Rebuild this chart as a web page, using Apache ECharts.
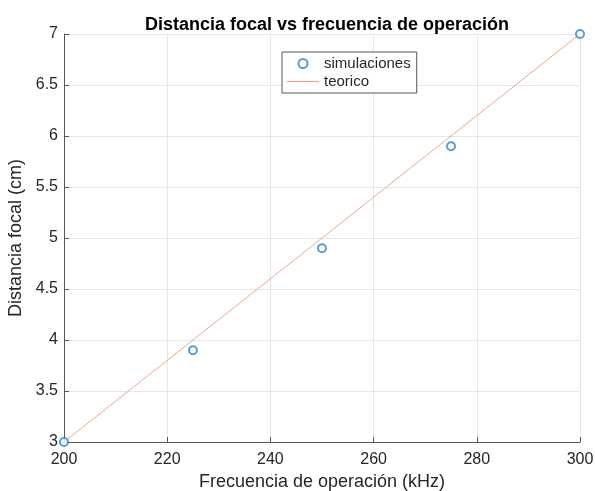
<!DOCTYPE html>
<html>
<head>
<meta charset="utf-8">
<script src="https://cdn.jsdelivr.net/npm/echarts@6/dist/echarts.min.js"></script>
<style>html,body{margin:0;padding:0;background:#fff}#c{width:595px;height:491px}</style>
</head>
<body>
<div id="c"></div>
<script>
// Simulated focal distance at each operating frequency
const frecuencias = [200, 225, 250, 275, 300];
const distSimuladas = [3, 3.9, 4.9, 5.9, 7];
// Theoretical line endpoints
const frecTeorica = [200, 300];
const distTeorica = [3, 7];

const font = 'Liberation Sans, Arial, Helvetica, sans-serif';
const lineColor = '#eea68c';
const markerColor = '#2e86c8';
const chart = echarts.init(document.getElementById('c'));
chart.setOption({
  animation: false,
  backgroundColor: '#fff',
  title: {
    text: 'Distancia focal vs frecuencia de operación',
    left: 322, textAlign: 'center', top: 11,
    textStyle: { fontFamily: font, fontSize: 18, fontWeight: 'bold', color: '#000' }
  },
  legend: {
    left: 282, top: 52, orient: 'vertical',
    padding: [4, 6, 4, 5],
    itemGap: 3,
    itemWidth: 32, itemHeight: 9,
    borderColor: '#555', borderWidth: 1, borderRadius: 0,
    backgroundColor: '#fff',
    textStyle: { fontFamily: font, fontSize: 15, color: '#262626' },
    data: [
      { name: 'simulaciones', icon: 'emptyCircle' },
      {
        name: 'teorico', icon: 'path://M0,4 L32,4 L32,5.2 L0,5.2 Z',
        itemStyle: { color: lineColor, borderWidth: 0 }
      }
    ]
  },
  grid: { left: 64, right: 15, top: 34, bottom: 49, outerBoundsMode: 'none' },
  xAxis: {
    type: 'value', min: 200, max: 300, interval: 20,
    name: 'Frecuencia de operación (kHz)', nameLocation: 'middle', nameGap: 30,
    nameTextStyle: { fontFamily: font, fontSize: 18, color: '#262626' },
    axisLine: { show: true, lineStyle: { color: '#555', width: 1 } },
    axisTick: { show: true, inside: true, length: 5, lineStyle: { color: '#555' } },
    axisLabel: { fontFamily: font, fontSize: 16, color: '#262626', margin: 10 },
    splitLine: { show: true, lineStyle: { color: '#e6e6e6', width: 1 } }
  },
  yAxis: {
    type: 'value', min: 3, max: 7, interval: 0.5,
    name: 'Distancia focal (cm)', nameLocation: 'middle', nameGap: 33,
    nameTextStyle: { fontFamily: font, fontSize: 18, color: '#262626' },
    axisLine: { show: true, lineStyle: { color: '#555', width: 1 } },
    axisTick: { show: true, inside: true, length: 5, lineStyle: { color: '#555' } },
    axisLabel: { fontFamily: font, fontSize: 16, color: '#262626', margin: 6 },
    splitLine: { show: true, lineStyle: { color: '#e6e6e6', width: 1 } }
  },
  series: [
    {
      name: 'teorico', type: 'line', z: 2,
      data: frecTeorica.map((f, i) => [f, distTeorica[i]]),
      showSymbol: false, symbol: 'none',
      lineStyle: { color: lineColor, width: 1 },
      itemStyle: { color: lineColor }
    },
    {
      name: 'simulaciones', type: 'scatter', z: 3, clip: false,
      data: frecuencias.map((f, i) => [f, distSimuladas[i]]),
      symbol: 'emptyCircle', symbolSize: 8,
      itemStyle: { color: markerColor, borderWidth: 1.6 }
    }
  ]
});
</script>
</body>
</html>
